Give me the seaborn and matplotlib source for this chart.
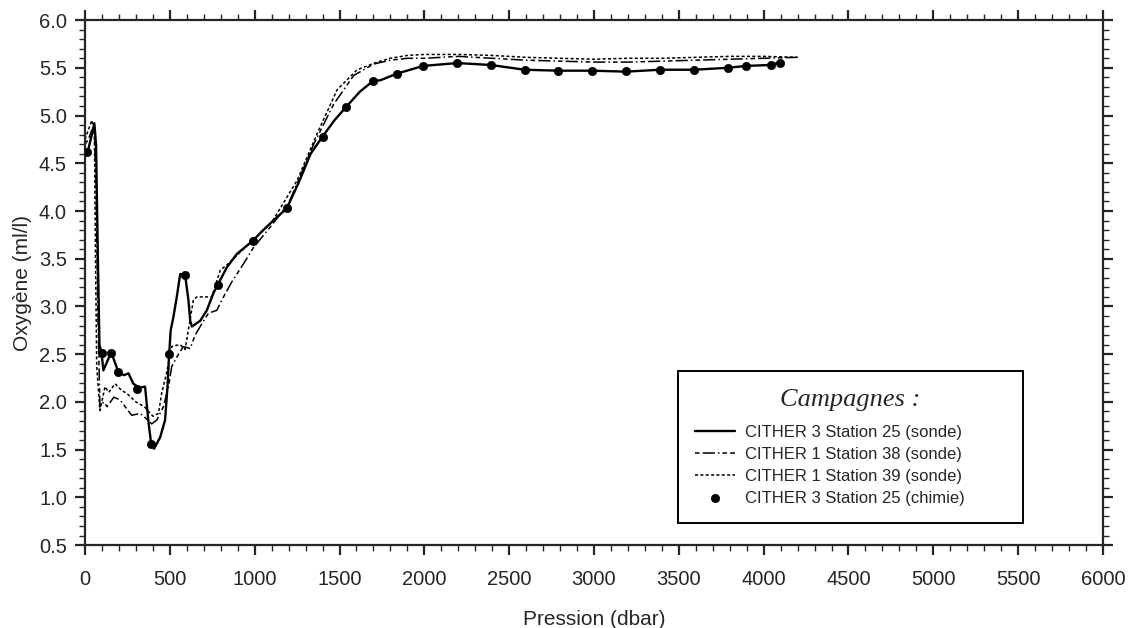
import numpy as np
import pandas as pd
import matplotlib
matplotlib.use('Agg')
import matplotlib.pyplot as plt
import seaborn as sns
from matplotlib.ticker import MultipleLocator, FormatStrFormatter

# CITHER 3 Station 25 (sonde)
p_st25 = [0, 20, 40, 55, 65, 75, 85, 98, 108, 130, 152, 167, 197, 230, 256, 285, 320, 354,
          374, 390, 407, 443, 472, 486, 496, 505, 521, 541, 561, 590, 610, 620, 630, 679,
          718, 757, 783, 836, 895, 990, 1050, 1110, 1190, 1260, 1330, 1400, 1470, 1539,
          1620, 1696, 1741, 1840, 1993, 2194, 2391, 2591, 2790, 2990, 3188, 3390, 3587,
          3788, 3896, 4044, 4100]
o_st25 = [4.60, 4.65, 4.80, 4.92, 4.70, 3.60, 2.60, 2.51, 2.33, 2.42, 2.51, 2.46, 2.31, 2.28,
          2.30, 2.19, 2.15, 2.16, 1.79, 1.56, 1.51, 1.63, 1.81, 2.16, 2.50, 2.75, 2.89,
          3.10, 3.34, 3.33, 3.06, 2.85, 2.79, 2.85, 2.96, 3.14, 3.23, 3.41, 3.55, 3.69,
          3.80, 3.90, 4.03, 4.30, 4.60, 4.78, 4.95, 5.09, 5.25, 5.36, 5.37, 5.44, 5.52,
          5.55, 5.53, 5.48, 5.47, 5.47, 5.46, 5.48, 5.48, 5.50, 5.52, 5.53, 5.56]

# CITHER 1 Station 38 (sonde)
p_st38 = [0, 20, 40, 55, 65, 75, 88, 110, 130, 150, 170, 207, 245, 275, 325, 364, 393, 423,
          462, 492, 511, 541, 580, 620, 649, 689, 728, 777, 807, 866, 935, 994, 1100, 1200,
          1348, 1466, 1584, 1702, 1800, 1900, 2000, 2200, 2400, 2600, 2800, 3000, 3200,
          3400, 3600, 3800, 4000, 4200]
o_st38 = [4.70, 4.75, 4.85, 4.80, 4.30, 3.00, 1.95, 2.00, 1.95, 2.00, 2.05, 2.02, 1.93, 1.86,
          1.88, 1.82, 1.77, 1.81, 1.95, 2.16, 2.37, 2.47, 2.58, 2.56, 2.70, 2.82, 2.93, 2.96,
          3.07, 3.26, 3.45, 3.62, 3.85, 4.08, 4.70, 5.12, 5.42, 5.54, 5.58, 5.60, 5.60,
          5.62, 5.60, 5.58, 5.57, 5.56, 5.56, 5.57, 5.58, 5.59, 5.60, 5.61]

# CITHER 1 Station 39 (sonde)
p_st39 = [0, 20, 40, 55, 62, 69, 88, 118, 140, 177, 216, 246, 300, 350, 400, 433, 452, 480,
          511, 531, 561, 590, 639, 659, 718, 748, 797, 846, 915, 994, 1100, 1250, 1368,
          1486, 1604, 1722, 1800, 1900, 2000, 2200, 2400, 2600, 2800, 3000, 3200, 3400,
          3600, 3800, 4000, 4200]
o_st39 = [4.75, 4.85, 4.95, 4.85, 3.50, 2.37, 1.91, 2.16, 2.10, 2.19, 2.12, 2.09, 2.00, 1.95,
          1.85, 1.88, 2.09, 2.30, 2.58, 2.59, 2.60, 2.55, 3.07, 3.10, 3.10, 3.10, 3.38,
          3.45, 3.57, 3.70, 3.88, 4.32, 4.81, 5.27, 5.48, 5.56, 5.60, 5.63, 5.64, 5.64,
          5.63, 5.61, 5.60, 5.59, 5.60, 5.60, 5.61, 5.62, 5.62, 5.61]

# CITHER 3 Station 25 (chimie)
p_chim = [10, 98, 152, 197, 305, 390, 496, 590, 783, 990, 1190, 1400, 1539, 1696, 1840,
          1993, 2194, 2391, 2591, 2790, 2990, 3188, 3390, 3587, 3788, 3896, 4044, 4098]
o_chim = [4.62, 2.51, 2.51, 2.31, 2.14, 1.56, 2.50, 3.33, 3.23, 3.69, 4.03, 4.78, 5.09,
          5.36, 5.44, 5.52, 5.55, 5.53, 5.48, 5.47, 5.47, 5.47, 5.48, 5.48, 5.50, 5.52,
          5.53, 5.55]

labels = ['CITHER 3 Station 25 (sonde)', 'CITHER 1 Station 38 (sonde)',
          'CITHER 1 Station 39 (sonde)', 'CITHER 3 Station 25 (chimie)']

sns.set_style("ticks")
plt.rcParams['font.family'] = ['Liberation Sans', 'DejaVu Sans']

fig = plt.figure(figsize=(11.35, 6.28), dpi=100)
ax = fig.add_axes([0.0749, 0.132, 0.8969, 0.836])

sns.lineplot(x=p_st25, y=o_st25, sort=False, estimator=None, color='black', lw=1.7,
             label=labels[0], ax=ax)
sns.lineplot(x=p_st38, y=o_st38, sort=False, estimator=None, color='black', lw=1.1,
             label=labels[1], ax=ax)
sns.lineplot(x=p_st39, y=o_st39, sort=False, estimator=None, color='black', lw=1.1,
             label=labels[2], ax=ax)
ax.lines[1].set_dashes([3, 2, 8, 2, 1, 2])
ax.lines[2].set_dashes([2, 1.5])
sns.scatterplot(x=p_chim, y=o_chim, color='black', s=36, edgecolor='black',
                label=labels[3], ax=ax, zorder=5)

ax.set_xlim(0, 6000)
ax.set_ylim(0.5, 6.0)
ax.xaxis.set_major_locator(MultipleLocator(500))
ax.xaxis.set_minor_locator(MultipleLocator(100))
ax.yaxis.set_major_locator(MultipleLocator(0.5))
ax.yaxis.set_minor_locator(MultipleLocator(0.1))
ax.yaxis.set_major_formatter(FormatStrFormatter('%.1f'))
ax.tick_params(which='major', direction='out', length=7, width=1.6, labelsize=14.5,
               top=True, right=True)
ax.tick_params(axis='x', which='major', pad=11)
ax.tick_params(axis='y', which='major', pad=6)
ax.tick_params(which='minor', direction='out', length=4, width=1.0,
               top=True, right=True)
for s in ax.spines.values():
    s.set_linewidth(1.6)
    s.set_visible(True)

ax.set_xlabel('Pression (dbar)', fontsize=15, labelpad=15)
ax.set_ylabel('Oxygène (ml/l)', fontsize=15, labelpad=5)

leg = ax.legend(loc='lower left', bbox_to_anchor=(0.5825, 0.042, 0.3385, 0.3),
                mode='expand', borderaxespad=0, fancybox=False, frameon=True,
                edgecolor='black', fontsize=12, handlelength=2.4, handletextpad=0.6,
                title='Campagnes :', borderpad=1.05, labelspacing=0.42,
                title_fontproperties={'family': 'Liberation Serif', 'style': 'italic',
                                      'size': 19})
leg.get_frame().set_linewidth(1.4)
leg.get_frame().set_alpha(1)
leg._legend_box.sep = 10

plt.savefig('out.png', dpi=100)
